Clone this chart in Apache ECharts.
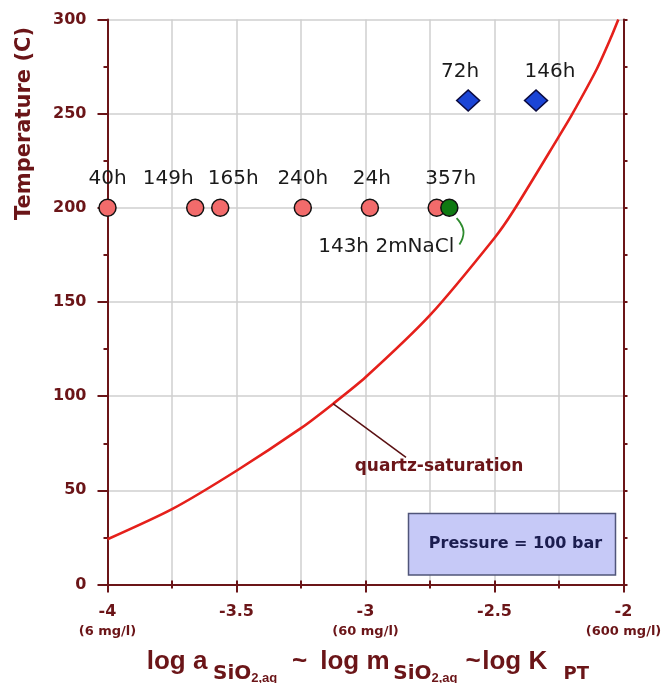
<!DOCTYPE html>
<html>
<head>
<meta charset="utf-8">
<script src="https://cdn.jsdelivr.net/npm/echarts@6/dist/echarts.min.js"></script>
<style>
html,body{margin:0;padding:0;background:#fff;}
#chart{width:665px;height:683px;}
</style>
</head>
<body>
<div id="chart"></div>
<script>
// ---- data ----
const curveX = [-4.0, -3.75, -3.5, -3.25, -3.125, -3.0, -2.75, -2.5, -2.427, -2.253, -2.201, -2.104, -2.05, -2.02];
const curveT = [24, 40, 60.4, 83, 96, 110, 143, 184, 198.3, 237.3, 249.2, 273.6, 290, 300];

const redX = [-4.0, -3.66, -3.563, -3.243, -2.983, -2.724];
const redT = [200, 200, 200, 200, 200, 200];
const redNames = ['40h', '149h', '165h', '240h', '24h', '357h'];

const greenX = [-2.675];
const greenT = [200];
const greenNames = ['143h 2mNaCl'];

const blueX = [-2.602, -2.339];
const blueT = [257, 257];
const blueNames = ['72h', '146h'];

const xSubLabels = {'-4': '(6 mg/l)', '-3': '(60 mg/l)', '-2': '(600 mg/l)'};

// annotation pointer anchors (data coords)
const quartzPointer = [[-3.126, 96], [-2.843, 67.5]];
const naclPointer = [[-2.647, 194.5], [-2.620, 187], [-2.636, 180.5]];

// ---- styling ----
const redLabelDx = [0, -27, 13, 0, 2, 14];
const blueLabelDx = [-8, 14];
const MAROON = '#6b1518';
const GRIDC = '#cfcfcf';

function zip(xs, ys) { return xs.map((x, i) => [x, ys[i]]); }

const chart = echarts.init(document.getElementById('chart'), null, {renderer: 'canvas'});

const baseAxisLine = {show: true, lineStyle: {color: MAROON, width: 2}};
const AX = {fontFamily: 'DejaVu Sans', fontWeight: 'bold', color: MAROON};
const TM = {fontFamily: 'Liberation Sans', fontWeight: 'bold', fontSize: 26, fill: MAROON, lineHeight: 30};

const option = {
  backgroundColor: '#ffffff',
  animation: false,
  grid: {left: 107.5, right: 41.5, top: 19.5, bottom: 98.5, containLabel: false},
  xAxis: [{
    type: 'value', min: -4, max: -2, interval: 0.5, position: 'bottom',
    axisLine: baseAxisLine,
    axisTick: {show: true, length: 8, lineStyle: {color: MAROON, width: 2}},
    minorTick: {show: true, splitNumber: 2, length: 4, lineStyle: {color: MAROON, width: 2}},
    splitLine: {show: true, lineStyle: {color: GRIDC, width: 1.5}},
    minorSplitLine: {show: true, lineStyle: {color: GRIDC, width: 1.5}},
    axisLabel: {
      margin: 16,
      formatter: function (v) {
        const key = String(v);
        const sub = xSubLabels[key];
        return sub ? '{a|' + key + '}\n{b|' + sub + '}' : '{a|' + key + '}';
      },
      rich: {
        a: Object.assign({fontSize: 16, lineHeight: 22}, AX),
        b: Object.assign({fontSize: 13, lineHeight: 18}, AX)
      }
    }
  }, {
    type: 'value', min: -4, max: -2, interval: 0.5, position: 'top',
    axisLine: baseAxisLine,
    axisTick: {show: true, length: 4, lineStyle: {color: MAROON, width: 2}},
    minorTick: {show: true, splitNumber: 2, length: 4, lineStyle: {color: MAROON, width: 2}},
    splitLine: {show: false}, axisLabel: {show: false}
  }],
  yAxis: [{
    type: 'value', min: 0, max: 300, interval: 50, position: 'left',
    axisLine: baseAxisLine,
    axisTick: {show: true, length: 10, lineStyle: {color: MAROON, width: 2}},
    minorTick: {show: true, splitNumber: 2, length: 4, lineStyle: {color: MAROON, width: 2}},
    splitLine: {show: true, lineStyle: {color: GRIDC, width: 1.5}},
    axisLabel: Object.assign({margin: 21, fontSize: 16}, AX)
  }, {
    type: 'value', min: 0, max: 300, interval: 50, position: 'right',
    axisLine: baseAxisLine,
    axisTick: {show: true, length: 4, lineStyle: {color: MAROON, width: 2}},
    minorTick: {show: true, splitNumber: 2, length: 4, lineStyle: {color: MAROON, width: 2}},
    splitLine: {show: false}, axisLabel: {show: false}
  }],
  series: [
    {
      name: 'quartz-saturation', type: 'line', data: zip(curveX, curveT), smooth: 0.25,
      showSymbol: false, lineStyle: {color: '#e5201b', width: 2.6}, z: 3, silent: true
    },
    {
      name: 'quartz pointer', type: 'line', data: quartzPointer, showSymbol: false,
      lineStyle: {color: '#5a1012', width: 1.5}, z: 3, silent: true
    },
    {
      name: 'nacl pointer', type: 'line', data: naclPointer, smooth: true, showSymbol: false,
      lineStyle: {color: '#2e8b2e', width: 1.8}, z: 3, silent: true
    },
    {
      name: 'runs', type: 'scatter', z: 5,
      data: redX.map((x, i) => ({value: [x, redT[i]], name: redNames[i],
        label: {offset: [redLabelDx[i], -29]}})),
      symbol: 'circle', symbolSize: 17,
      itemStyle: {color: '#f26b6b', borderColor: '#111', borderWidth: 1.5, opacity: 1},
      label: {show: true, position: 'inside', align: 'center', verticalAlign: 'middle',
        formatter: p => p.name, fontFamily: 'DejaVu Sans', fontSize: 20, color: '#1a1a1a'}
    },
    {
      name: 'NaCl run', type: 'scatter', z: 6,
      data: greenX.map((x, i) => ({value: [x, greenT[i]], name: greenNames[i]})),
      symbol: 'circle', symbolSize: 17,
      itemStyle: {color: '#0f7a12', borderColor: '#111', borderWidth: 1.5, opacity: 1},
      label: {show: true, position: 'inside', align: 'right', verticalAlign: 'middle',
        offset: [5, 39],
        formatter: p => p.name, fontFamily: 'DejaVu Sans', fontSize: 20, color: '#1a1a1a'}
    },
    {
      name: 'high T runs', type: 'scatter', z: 5,
      data: blueX.map((x, i) => ({value: [x, blueT[i]], name: blueNames[i],
        label: {offset: [blueLabelDx[i], -29]}})),
      symbol: 'diamond', symbolSize: [23, 21],
      itemStyle: {color: '#1b45d6', borderColor: '#0a0a40', borderWidth: 1.5, opacity: 1},
      label: {show: true, position: 'inside', align: 'center', verticalAlign: 'middle',
        formatter: p => p.name, fontFamily: 'DejaVu Sans', fontSize: 20, color: '#1a1a1a'}
    }
  ],
  graphic: [
    {
      type: 'text', z: 10,
      x: 25, y: 123.5, rotation: Math.PI / 2,
      style: {text: 'Temperature (C)', x: 0, y: 0, align: 'center', verticalAlign: 'middle',
        fill: MAROON, font: 'bold 21px "DejaVu Sans"'}
    },
    {
      type: 'text', z: 10,
      style: {
        x: 146.7, y: 662, align: 'left', verticalAlign: 'middle',
        text: '{m1|log a}{s|SiO}{t1|2,aq}{m2|~}{m3|log m}{s|SiO}{t2|2,aq}{m4|~}{m5|log K}{p|PT}',
        fill: MAROON,
        rich: {
          m1: Object.assign({width: 66.3}, TM),
          m2: Object.assign({width: 28.3}, TM),
          m3: Object.assign({width: 73}, TM),
          m4: Object.assign({width: 16.7}, TM),
          m5: Object.assign({width: 81.3}, TM),
          s: {fontFamily: 'DejaVu Sans', fontWeight: 'bold', fontSize: 20, fill: MAROON, lineHeight: 22, padding: [24, 0, 0, 0]},
          t1: {fontFamily: 'Liberation Sans', fontWeight: 'bold', fontSize: 13, fill: MAROON, lineHeight: 15, padding: [32, 0, 0, 0], width: 40.7},
          t2: {fontFamily: 'Liberation Sans', fontWeight: 'bold', fontSize: 13, fill: MAROON, lineHeight: 15, padding: [32, 0, 0, 0], width: 34},
          p: {fontFamily: 'DejaVu Sans', fontWeight: 'bold', fontSize: 18, fill: MAROON, lineHeight: 20, padding: [24, 0, 0, 0]}
        }
      }
    },
    {
      type: 'text', z: 10,
      style: {x: 439, y: 467, align: 'center', verticalAlign: 'middle', text: 'quartz-saturation',
        fill: MAROON, font: 'bold 17px "DejaVu Sans"'}
    },
    {
      type: 'rect', z: 8,
      shape: {x: 408.5, y: 513.5, width: 207, height: 61.5},
      style: {fill: '#c6c9f7', stroke: '#50557a', lineWidth: 1.5}
    },
    {
      type: 'text', z: 10,
      style: {x: 515.5, y: 544, align: 'center', verticalAlign: 'middle', text: 'Pressure = 100 bar',
        fill: '#1b1d4f', font: 'bold 16px "DejaVu Sans"'}
    }
  ]
};
chart.setOption(option);
</script>
</body>
</html>
